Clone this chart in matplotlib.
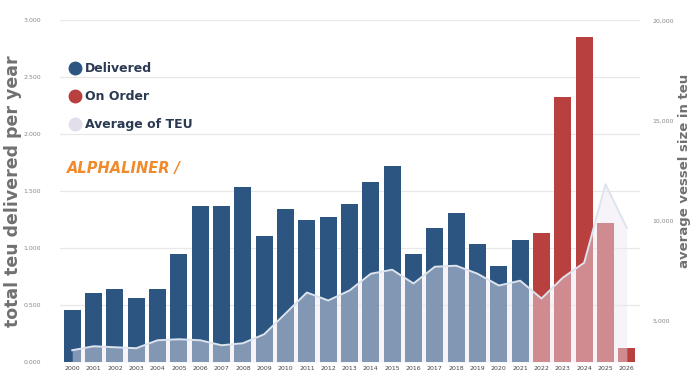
import matplotlib.pyplot as plt
from matplotlib.lines import Line2D

years = list(range(2000, 2027))

# total TEU delivered per year (left axis), delivered vs. on order
delivered = [0.46, 0.61, 0.64, 0.56, 0.64, 0.95, 1.37, 1.37, 1.54, 1.11,
             1.34, 1.25, 1.27, 1.39, 1.58, 1.72, 0.95, 1.18, 1.31, 1.04,
             0.84, 1.07]
on_order = [1.13, 2.33, 2.85, 1.22, 0.12]

# average vessel size in TEU (right axis)
avg_teu = [3530, 3730, 3680, 3630, 4030, 4080, 4030, 3780, 3880, 4330,
           5370, 6420, 6020, 6520, 7360, 7560, 6870, 7710, 7760, 7360,
           6770, 7010, 6120, 7160, 7910, 11840, 9650]

left_ticks = [0.0, 0.5, 1.0, 1.5, 2.0, 2.5, 3.0]
right_ticks = [5000, 10000, 15000, 20000]

c_deliv = "#2c5681"
c_order = "#b8403f"
c_avg = "#ece8f2"
c_text = "#707070"

fig = plt.figure(figsize=(6.93, 3.8), dpi=100)
ax = fig.add_axes([0.087, 0.047, 0.836, 0.9])

x_del = list(range(len(delivered)))
x_ord = list(range(len(delivered), len(years)))
ax.bar(x_del, delivered, width=0.8, color=c_deliv, zorder=2)
ax.bar(x_ord, on_order, width=0.8, color=c_order, zorder=2)

ax.set_xlim(-0.56, len(years) - 0.4)
ax.set_ylim(0, 3.0)
ax.set_yticks(left_ticks)
ax.set_yticklabels([f"{v:.3f}" for v in left_ticks])
ax.set_xticks(range(len(years)))
ax.set_xticklabels([str(y) for y in years])
ax.tick_params(axis="x", length=0, labelsize=4.5, colors="#444444", pad=3)
ax.tick_params(axis="y", length=0, labelsize=4.5, colors="#888888", pad=14)
ax.grid(axis="y", color="#e8e8e8", lw=0.9, zorder=0)
for s in ax.spines.values():
    s.set_visible(False)
ax.set_ylabel("total teu delivered per year", fontsize=12.5, fontweight="bold",
              color=c_text, labelpad=1)

# average vessel size drawn as a translucent area over the bars
ax2 = ax.twinx()
ax2.set_ylim(2935, 20050)
ax2.fill_between(range(len(years)), avg_teu, 2935, color=c_avg, alpha=0.45,
                 lw=0, zorder=3)
ax2.plot(range(len(years)), avg_teu, color="#dde4ee", lw=1.4, zorder=4)
ax2.set_yticks(right_ticks)
ax2.set_yticklabels([f"{v:,}" for v in right_ticks])
ax2.tick_params(axis="y", length=0, labelsize=4.5, colors="#888888", pad=9)
for s in ax2.spines.values():
    s.set_visible(False)
ax2.set_ylabel("average vessel size in teu", fontsize=9.5, fontweight="bold",
               color=c_text, labelpad=2)
ax2.yaxis.set_label_coords(1.066, 0.56)

handles = [
    Line2D([], [], ls="", marker="o", ms=9, color=c_deliv),
    Line2D([], [], ls="", marker="o", ms=9, color=c_order),
    Line2D([], [], ls="", marker="o", ms=9, color="#e2dfea"),
]
ax.legend(handles, ["Delivered", "On Order", "Average of TEU"], loc="upper left",
          bbox_to_anchor=(-0.005, 0.91), frameon=False,
          labelspacing=1.2, handletextpad=0.3, handlelength=1.0,
          prop={"weight": "bold", "size": 9})
for t in ax.get_legend().get_texts():
    t.set_color("#2b3a52")

ax.text(0.012, 0.565, "ALPHALINER /", transform=ax.transAxes, fontsize=10.5,
        fontweight="bold", fontstyle="italic", color="#f08a2a", va="center")

fig.savefig("out.png", dpi=100)
